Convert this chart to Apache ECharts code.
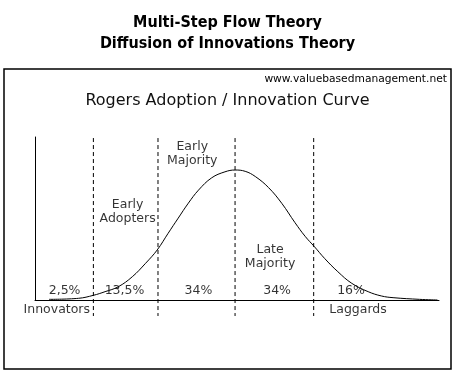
<!DOCTYPE html>
<html>
<head>
<meta charset="utf-8">
<script src="https://cdn.jsdelivr.net/npm/echarts@6/dist/echarts.min.js"></script>
<style>
  html, body { margin: 0; padding: 0; background: #fff; }
  #chart { width: 455px; height: 376px; }
</style>
</head>
<body>
<div id="chart"></div>
<script>
// curve, x in standard deviations from the peak, y as % of peak height
const curveX = [-2.39, -2.01, -1.82, -1.67, -1.5, -1.32, -1.15, -1.0, -0.86, -0.73, -0.6, -0.47, -0.3, -0.13, 0, 0.13, 0.26, 0.43, 0.6, 0.77, 0.9, 1.02, 1.15, 1.32, 1.5, 1.71, 1.88, 2.03, 2.37, 2.6]
const curveY = [0.5, 1.3, 3.6, 6.4, 10.2, 17.9, 28.2, 38.5, 51.3, 63, 74.5, 84.5, 94, 98.6, 100, 99, 95, 86.5, 74.4, 59.5, 49, 41, 32, 21.8, 12.8, 6.4, 3.1, 1.8, 0.5, 0]

// dashed dividers between adopter groups
const dividers = [-1.82, -0.99, 0, 1.01]
const dividerTop = 124.6
const dividerBottom = -12.3

// share labels sitting just above the axis
const shares = ['2,5%', '13,5%', '34%', '34%', '16%']
const shareX = [-2.19, -1.42, -0.47, 0.54, 1.49]
const shareY = 6.9

// group names
const groups = ['Innovators', 'Early\nAdopters', 'Early\nMajority', 'Late\nMajority', 'Laggards']
const groupX = [-2.29, -1.38, -0.55, 0.45, 1.58]
const groupY = [-7.7, 67.7, 112.3, 33, -7.7]

const chart = echarts.init(document.getElementById('chart'))

const labelStyle = {
  show: true,
  position: 'inside',
  color: '#000',
  fontFamily: 'DejaVu Sans',
  fontSize: 12.5,
  lineHeight: 14,
  formatter: p => p.data.name
}

const dashedSeries = dividers.map(d => ({
  type: 'line',
  data: [[d, dividerTop], [d, dividerBottom]],
  symbol: 'none',
  clip: false,
  silent: true,
  lineStyle: { color: '#000', width: 1, type: [4, 3] }
}))

let options = {
  animation: false,
  backgroundColor: '#fff',
  grid: { left: 35, right: 16, top: 137, bottom: 76 },
  xAxis: {
    type: 'value',
    min: -2.57,
    max: 2.62,
    axisLine: { show: true, onZero: false, lineStyle: { color: '#000', width: 1 } },
    axisTick: { show: false },
    axisLabel: { show: false },
    splitLine: { show: false }
  },
  yAxis: {
    type: 'value',
    min: 0,
    max: 125.4,
    axisLine: { show: true, onZero: false, lineStyle: { color: '#000', width: 1 } },
    axisTick: { show: false },
    axisLabel: { show: false },
    splitLine: { show: false }
  },
  graphic: [
    {
      type: 'rect',
      shape: { x: 4, y: 69, width: 447, height: 300 },
      style: { fill: 'none', stroke: '#000', lineWidth: 1.5 }
    },
    {
      type: 'text', left: 'center', top: 15,
      style: { text: 'Multi-Step Flow Theory', fill: '#000', font: 'bold 16px "DejaVu Sans Condensed"', textAlign: 'center' }
    },
    {
      type: 'text', left: 'center', top: 36,
      style: { text: 'Diffusion of Innovations Theory', fill: '#000', font: 'bold 16px "DejaVu Sans Condensed"', textAlign: 'center' }
    },
    {
      type: 'text', right: 8, top: 74,
      style: { text: 'www.valuebasedmanagement.net', fill: '#000', font: '10.7px "DejaVu Sans"' }
    },
    {
      type: 'text', left: 'center', top: 93,
      style: { text: 'Rogers Adoption / Innovation Curve', fill: '#111', font: '16px "DejaVu Sans"' }
    }
  ],
  series: [
    {
      type: 'line',
      data: curveX.map((x, i) => [x, curveY[i]]),
      smooth: 0.4,
      symbol: 'none',
      lineStyle: { color: '#000', width: 1 }
    },
    ...dashedSeries,
    {
      type: 'scatter',
      symbolSize: 0,
      clip: false,
      label: labelStyle,
      data: shares.map((s, i) => ({ name: s, value: [shareX[i], shareY] }))
    },
    {
      type: 'scatter',
      symbolSize: 0,
      clip: false,
      label: labelStyle,
      data: groups.map((g, i) => ({ name: g, value: [groupX[i], groupY[i]] }))
    }
  ]
}
options && chart.setOption(options)
</script>
</body>
</html>
